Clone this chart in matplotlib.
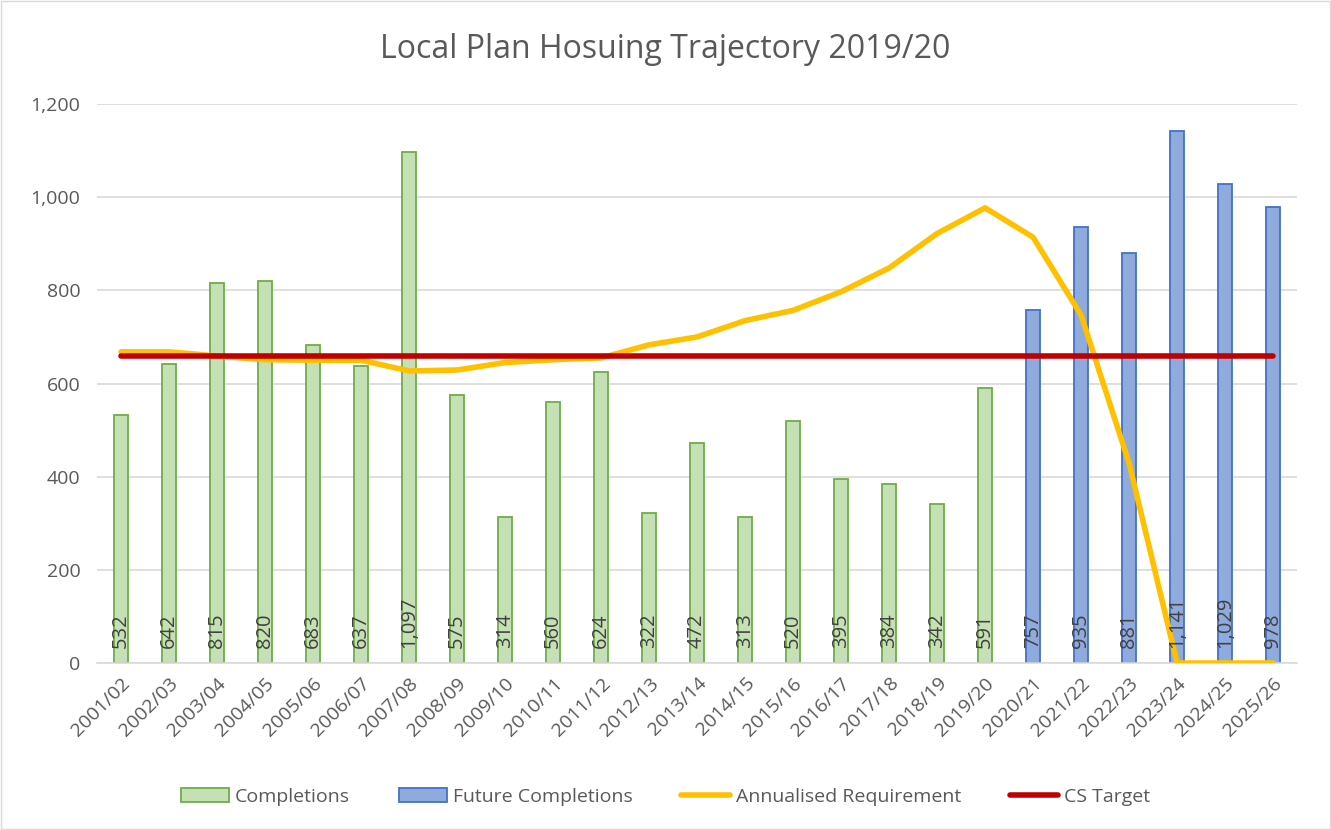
import matplotlib.pyplot as plt
from matplotlib.ticker import FuncFormatter
from matplotlib.patches import Rectangle
import numpy as np

plt.rcParams['font.family'] = ['Open Sans', 'DejaVu Sans']

years = ['2001/02', '2002/03', '2003/04', '2004/05', '2005/06', '2006/07', '2007/08',
         '2008/09', '2009/10', '2010/11', '2011/12', '2012/13', '2013/14', '2014/15',
         '2015/16', '2016/17', '2017/18', '2018/19', '2019/20', '2020/21', '2021/22',
         '2022/23', '2023/24', '2024/25', '2025/26']
completions = [532, 642, 815, 820, 683, 637, 1097, 575, 314, 560, 624, 322, 472, 313,
               520, 395, 384, 342, 591]
future = [757, 935, 881, 1141, 1029, 978]
requirement = [668, 668, 659, 651, 650, 650, 627, 629, 645, 651, 655, 683, 700, 735,
               757, 797, 848, 922, 977, 914, 747, 429, 0, 0, 0]
cs_target = [660] * len(years)

x = np.arange(len(years))
x_done = x[:len(completions)]
x_future = x[len(completions):]

fig = plt.figure(figsize=(13.31, 8.30), dpi=100)
ax = fig.add_axes([0.073, 0.2012, 0.9015, 0.6735])

w = 0.3
b1 = ax.bar(x_done, completions, width=w, color='#c5e0b4', edgecolor='#70ad47',
            linewidth=1.3, label='Completions', zorder=2)
b2 = ax.bar(x_future, future, width=w, color='#8faadc', edgecolor='#4472c4',
            linewidth=1.3, label='Future Completions', zorder=2)
l1, = ax.plot(x, requirement, color='#ffc000', linewidth=4, label='Annualised Requirement',
              zorder=3, solid_capstyle='round')
l2, = ax.plot(x, cs_target, color='#c00000', linewidth=4, label='CS Target', zorder=4,
              solid_capstyle='round')

for xi, v in zip(x, completions + future):
    ax.text(xi, 33, f'{v:,}', rotation=90, ha='center', va='bottom',
            fontsize=14.5, color='#404040', zorder=5)

ax.set_xlim(-0.5, len(years) - 0.5)
ax.set_ylim(0, 1200)
ax.set_yticks(range(0, 1201, 200))
ax.yaxis.set_major_formatter(FuncFormatter(lambda v, p: f'{int(v):,}'))
ax.set_xticks(x)
ax.set_xticklabels(years, rotation=45, ha='right', rotation_mode='anchor')
ax.tick_params(axis='both', length=0, labelsize=14, colors='#595959')
ax.tick_params(axis='x', pad=8)
ax.tick_params(axis='y', pad=12)
ax.grid(axis='y', color='#d9d9d9', linewidth=1.2, zorder=0)
for s in ['top', 'right', 'left']:
    ax.spines[s].set_visible(False)
ax.spines['bottom'].set_color('#d9d9d9')
ax.spines['bottom'].set_linewidth(1.2)

fig.suptitle('Local Plan Hosuing Trajectory 2019/20', y=0.96, fontsize=23,
             color='#595959')
fig.legend([b1, b2, l1, l2], ['Completions', 'Future Completions',
                              'Annualised Requirement', 'CS Target'],
           loc='center', bbox_to_anchor=(0.5, 0.04), ncol=4, frameon=False,
           fontsize=14, labelcolor='#595959', handlelength=2.5, columnspacing=2.5,
           handletextpad=0.3)

fig.patches.append(Rectangle((0.001, 0.001), 0.998, 0.998, transform=fig.transFigure,
                             fill=False, edgecolor='#d9d9d9', linewidth=1))

plt.savefig('out.png', dpi=100)
